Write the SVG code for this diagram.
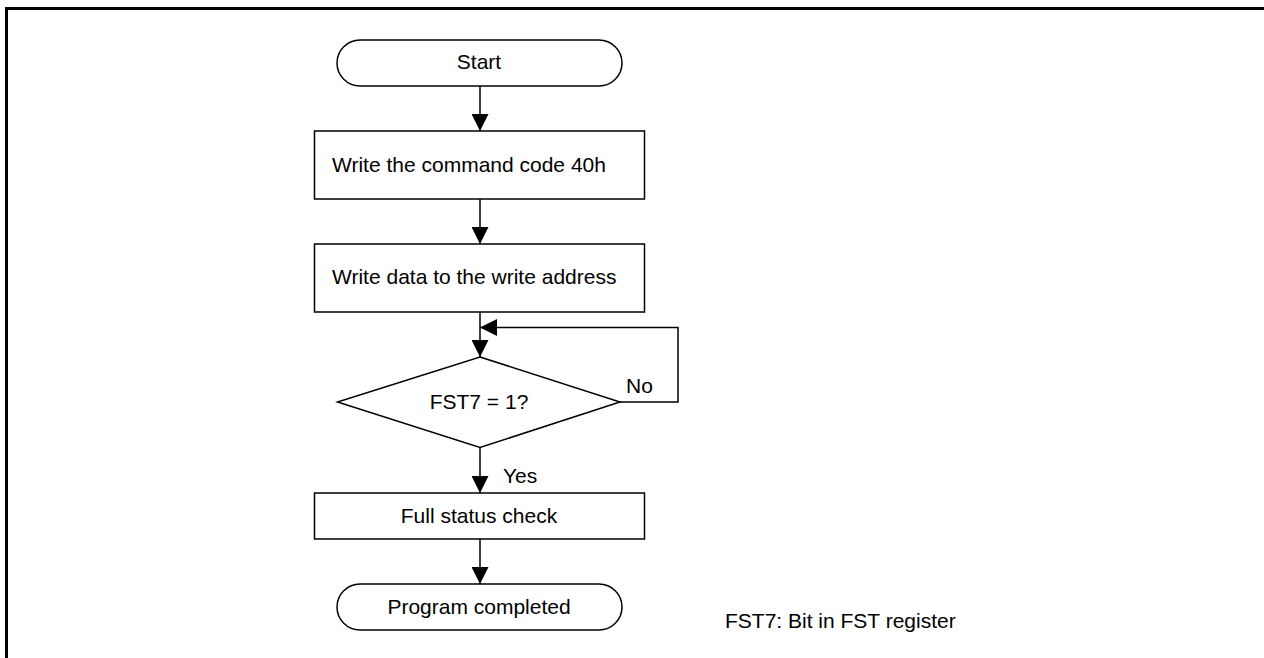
<svg xmlns="http://www.w3.org/2000/svg" width="1264" height="658" viewBox="0 0 1264 658">
<defs>
<style>
.shape{fill:#fff;stroke:#000;stroke-width:1.5}
.conn{fill:none;stroke:#000;stroke-width:1.5}
text{font-family:"Liberation Sans",Arial,sans-serif;font-size:21px;fill:#000}
.c{text-anchor:middle}
</style>
<marker id="arr" markerUnits="userSpaceOnUse" markerWidth="17" markerHeight="17" refX="17" refY="8.5" orient="auto">
<path d="M0,0 L17,8.5 L0,17 z" fill="#000"/>
</marker>
</defs>
<rect width="1264" height="658" fill="#fff"/>
<path d="M6.5,658 V8.5 H1264" fill="none" stroke="#000" stroke-width="3"/>
<g id="connectors">
<path class="conn" d="M480,86 V131" marker-end="url(#arr)"/>
<path class="conn" d="M480,199 V244" marker-end="url(#arr)"/>
<path class="conn" d="M480,312 V357" marker-end="url(#arr)"/>
<path class="conn" d="M620,402 H678 V327.5 H480" marker-end="url(#arr)"/>
<path class="conn" d="M480,447.5 V493" marker-end="url(#arr)"/>
<path class="conn" d="M480,539 V584" marker-end="url(#arr)"/>
<text x="626" y="393">No</text>
<text x="503" y="483">Yes</text>
</g>
<g id="start">
<rect class="shape" x="337" y="40" width="285" height="46" rx="23" ry="23"/>
<text class="c" x="479" y="69">Start</text>
</g>
<g id="cmd">
<rect class="shape" x="314.5" y="131" width="330" height="68"/>
<text x="332" y="172">Write the command code 40h</text>
</g>
<g id="writedata">
<rect class="shape" x="314.5" y="244" width="330" height="68"/>
<text x="332" y="283.5">Write data to the write address</text>
</g>
<g id="decision">
<polygon class="shape" points="480,357 620,402 480,447.5 337.5,402"/>
<text class="c" x="479" y="408.5">FST7 = 1?</text>
</g>
<g id="status">
<rect class="shape" x="314.5" y="493" width="330" height="46"/>
<text class="c" x="479" y="522.5">Full status check</text>
</g>
<g id="end">
<rect class="shape" x="337" y="584" width="285" height="46" rx="23" ry="23"/>
<text class="c" x="479" y="613.5">Program completed</text>
</g>
<g id="note">
<text x="725" y="627.5">FST7: Bit in FST register</text>
</g>
</svg>
